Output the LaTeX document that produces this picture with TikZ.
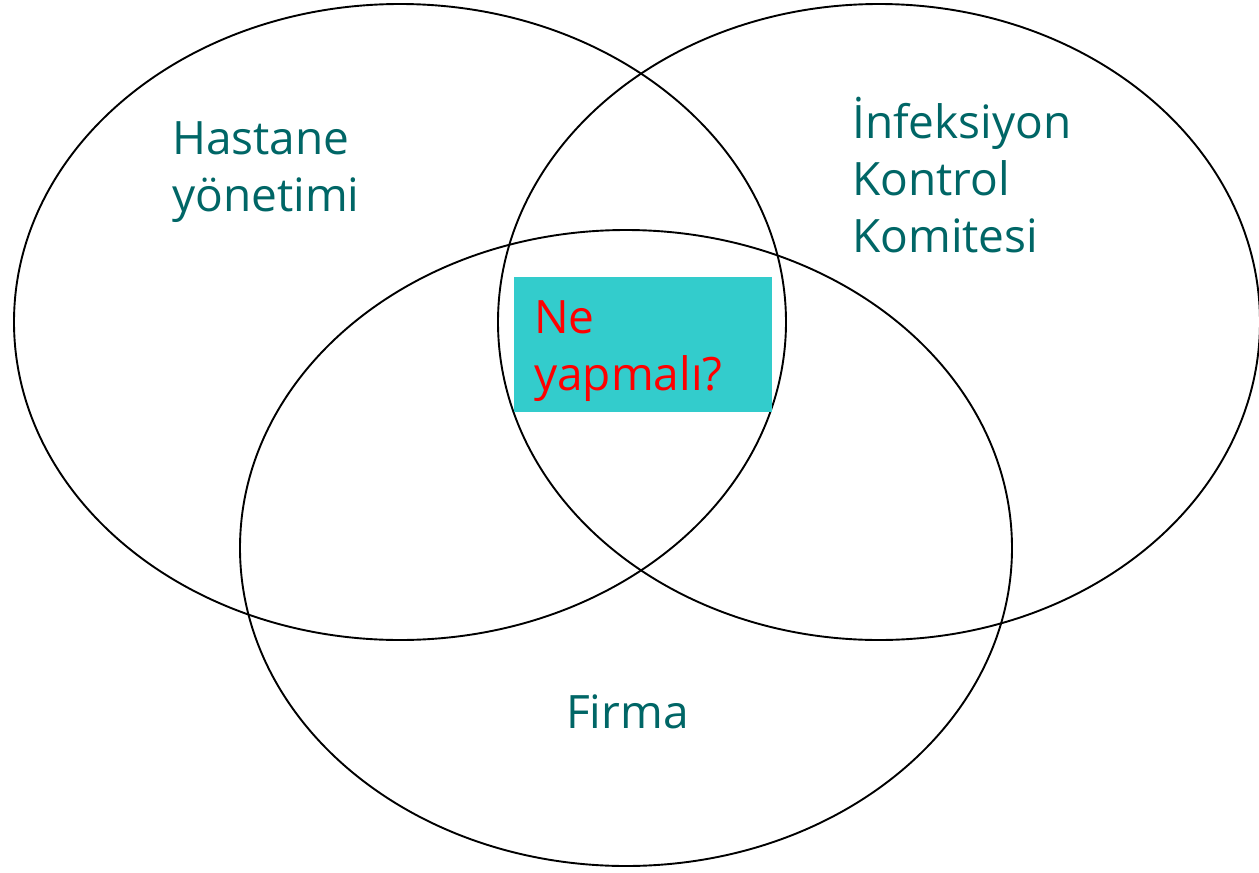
\documentclass[tikz,border=0pt]{standalone}
\usepackage{fontspec}
\setmainfont{Open Sans}
\definecolor{lbl}{HTML}{006666}
\definecolor{boxc}{HTML}{33CCCC}
\definecolor{qred}{HTML}{FF0000}
\begin{document}
\begin{tikzpicture}[x=1pt,y=-1pt,
  circ/.style={draw=black,line width=1.9pt},
  lbltext/.style={text=lbl,anchor=base west,inner sep=0pt,align=left,
    font=\fontsize{46}{57}\selectfont},
  qbox/.style={fill=boxc,draw=none}]
\useasboundingbox[fill=white] (0,0) rectangle (1259,873);
\draw[circ] (400,322) ellipse [x radius=386,y radius=318];
\draw[circ] (879,322) ellipse [x radius=381,y radius=318];
\draw[circ] (626,548) ellipse [x radius=386,y radius=318];
\fill[qbox] (514,277) rectangle (772,412);
\node[lbltext] (hy) at (172,211) {Hastane\\yönetimi};
\node[lbltext] (ikk) at (852,252) {İnfeksiyon\\Kontrol\\Komitesi};
\node[lbltext] (fi) at (566,728) {Firma};
\node[lbltext,text=qred] (ne) at (534,390) {Ne\\yapmalı?};
\end{tikzpicture}
\end{document}
